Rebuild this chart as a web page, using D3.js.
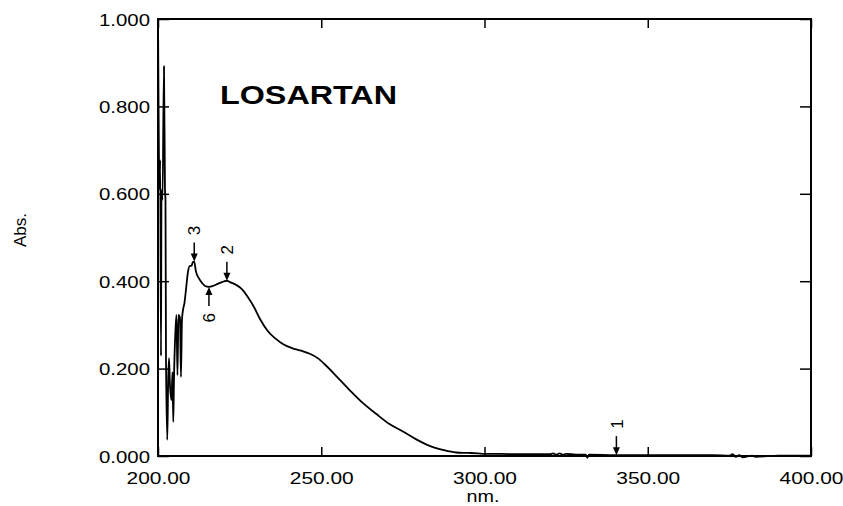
<!DOCTYPE html>
<html>
<head>
<meta charset="utf-8">
<script src="https://cdn.jsdelivr.net/npm/d3@7"></script>
<style>
  body { margin: 0; background: #fff; }
  svg { display: block; font-family: "Liberation Sans", Arial, sans-serif; }
</style>
</head>
<body>
<svg id="chart" width="843" height="506"></svg>
<script>
// spectrum (nm, Abs.)
let wavelength = [
  200.05, 200.46, 200.67, 200.92, 201.07, 201.38, 201.83, 202.14, 202.29, 202.45,
  202.84, 203.12, 203.36, 203.67, 204.13, 204.43, 204.68, 204.89, 205.35, 205.66,
  205.96, 206.27, 206.73, 207.03, 207.34, 207.65, 208.10, 208.56, 209.17, 209.79,
  210.24, 210.70, 211.10, 211.6, 212.5, 213.5, 214.4, 215.6, 216.8, 218.3,
  219.6, 221.1, 222.0, 223.85, 225.7, 227.5, 229.4, 231.2, 233.6, 236.1,
  238.5, 241.0, 243.9, 246.5, 248.9, 251.6, 254.6, 258.7, 262.8, 266.9,
  270.9, 275.0, 279.1, 283.2, 287.2, 291.3, 295.4, 298, 300, 305,
  310, 315, 320, 321, 322, 323, 324, 325, 328, 331,
  331.5, 332, 340, 350, 360, 370, 375, 376, 377, 378,
  379, 382, 383, 390, 400
];
let absorbance = [
  0.952, 0.609, 0.677, 0.229, 0.609, 0.586, 0.892, 0.609, 0.586, 0.220,
  0.037, 0.174, 0.224, 0.162, 0.128, 0.192, 0.078, 0.174, 0.288, 0.323,
  0.185, 0.323, 0.316, 0.181, 0.311, 0.334, 0.350, 0.380, 0.421, 0.435,
  0.435, 0.444, 0.445, 0.423, 0.407, 0.396, 0.389, 0.387, 0.389, 0.394,
  0.398, 0.401, 0.398, 0.392, 0.382, 0.364, 0.341, 0.314, 0.286, 0.268,
  0.255, 0.247, 0.241, 0.234, 0.224, 0.206, 0.183, 0.151, 0.121, 0.096,
  0.073, 0.056, 0.038, 0.023, 0.014, 0.008, 0.007, 0.006, 0.005, 0.005,
  0.004, 0.004, 0.004, 0.006, 0.003, 0.006, 0.003, 0.005, 0.003, 0.003,
  -0.004, 0.003, 0.002, 0.002, 0.002, 0.002, 0.001, 0.004, -0.002, 0.002,
  -0.003, 0.001, -0.002, 0.001, 0.001
];

// peak pick marks
let peakLabels = ["3", "2", "6", "1"];
let peakWl = [211.1, 221.1, 215.6, 340.4];
let peakAbs = [0.445, 0.401, 0.387, 0.002];
let peakDir = ["down", "down", "up", "down"];

let xTicks = [200, 250, 300, 350, 400];
let yTicks = [0, 0.2, 0.4, 0.6, 0.8, 1.0];

let plotLeft = 158, plotRight = 811, plotTop = 19, plotBottom = 456;

let svg = d3.select('#chart');

let x = d3.scaleLinear().domain([200, 400]).range([plotLeft, plotRight]);
let y = d3.scaleLinear().domain([0, 1]).range([plotBottom, plotTop]);

// tick marks (all pointing inward)
svg.append('g').attr('transform', `translate(0,${plotBottom})`)
  .call(d3.axisBottom(x).tickValues(xTicks).tickSizeInner(-9).tickSizeOuter(0).tickFormat(d3.format('.2f')))
  .call(g => g.select('.domain').remove())
  .call(g => g.selectAll('.tick text')
    .attr('y', 28).attr('dy', 0)
    .attr('font-size', 17).attr('fill', '#000')
    .attr('textLength', 64).attr('lengthAdjust', 'spacingAndGlyphs'));

svg.append('g').attr('transform', `translate(0,${plotTop})`)
  .call(d3.axisTop(x).tickValues(xTicks).tickSizeInner(-9).tickSizeOuter(0).tickFormat(''))
  .call(g => g.select('.domain').remove());

svg.append('g').attr('transform', `translate(${plotLeft},0)`)
  .call(d3.axisLeft(y).tickValues(yTicks).tickSizeInner(-11).tickSizeOuter(0).tickFormat(d3.format('.3f')))
  .call(g => g.select('.domain').remove())
  .call(g => g.selectAll('.tick text')
    .attr('x', -8).attr('dy', '0.36em')
    .attr('font-size', 17).attr('fill', '#000')
    .attr('textLength', 51).attr('lengthAdjust', 'spacingAndGlyphs'));

svg.append('g').attr('transform', `translate(${plotRight},0)`)
  .call(d3.axisRight(y).tickValues(yTicks).tickSizeInner(-11).tickSizeOuter(0).tickFormat(''))
  .call(g => g.select('.domain').remove());

svg.selectAll('.tick line').attr('stroke', '#000').attr('stroke-width', 1.5);

// frame
svg.append('rect')
  .attr('x', plotLeft).attr('y', plotTop)
  .attr('width', plotRight - plotLeft).attr('height', plotBottom - plotTop)
  .attr('fill', 'none').attr('stroke', '#000').attr('stroke-width', 2);

// spectrum
let points = wavelength.map((w, i) => [w, absorbance[i]]);
let line = d3.line().x(d => x(d[0])).y(d => y(d[1])).curve(d3.curveMonotoneX);

svg.append('path')
  .datum(points)
  .attr('d', line)
  .attr('fill', 'none')
  .attr('stroke', '#000')
  .attr('stroke-width', 1.8)
  .attr('stroke-linejoin', 'round');

// peak arrows + labels
let peaks = peakLabels.map((l, i) => ({ label: l, wl: peakWl[i], abs: peakAbs[i], dir: peakDir[i] }));
let pg = svg.append('g').selectAll('g').data(peaks).enter().append('g')
  .attr('transform', d => `translate(${x(d.wl)},${y(d.abs)})`);

pg.append('line')
  .attr('x1', 0).attr('x2', 0)
  .attr('y1', d => d.dir === 'down' ? -19 : 19)
  .attr('y2', d => d.dir === 'down' ? -5 : 5)
  .attr('stroke', '#000').attr('stroke-width', 1.5);

pg.append('path')
  .attr('d', d => d.dir === 'down' ? 'M-3.5,-8L3.5,-8L0,0Z' : 'M-3.5,8L3.5,8L0,0Z')
  .attr('fill', '#000');

pg.append('text')
  .attr('transform', d => `translate(0,${d.dir === 'down' ? -31 : 31}) rotate(-90)`)
  .attr('text-anchor', 'middle')
  .attr('dy', '0.36em')
  .attr('font-size', 17)
  .text(d => d.label);

// titles
svg.append('text')
  .attr('x', 220).attr('y', 104)
  .attr('font-size', 25).attr('font-weight', 'bold')
  .attr('textLength', 177).attr('lengthAdjust', 'spacingAndGlyphs')
  .text('LOSARTAN');

svg.append('text')
  .attr('x', 483).attr('y', 502)
  .attr('text-anchor', 'middle')
  .attr('font-size', 17)
  .attr('textLength', 33).attr('lengthAdjust', 'spacingAndGlyphs')
  .text('nm.');

svg.append('text')
  .attr('transform', 'translate(26,230) rotate(-90)')
  .attr('text-anchor', 'middle')
  .attr('font-size', 16)
  .attr('textLength', 34).attr('lengthAdjust', 'spacingAndGlyphs')
  .text('Abs.');
</script>
</body>
</html>
